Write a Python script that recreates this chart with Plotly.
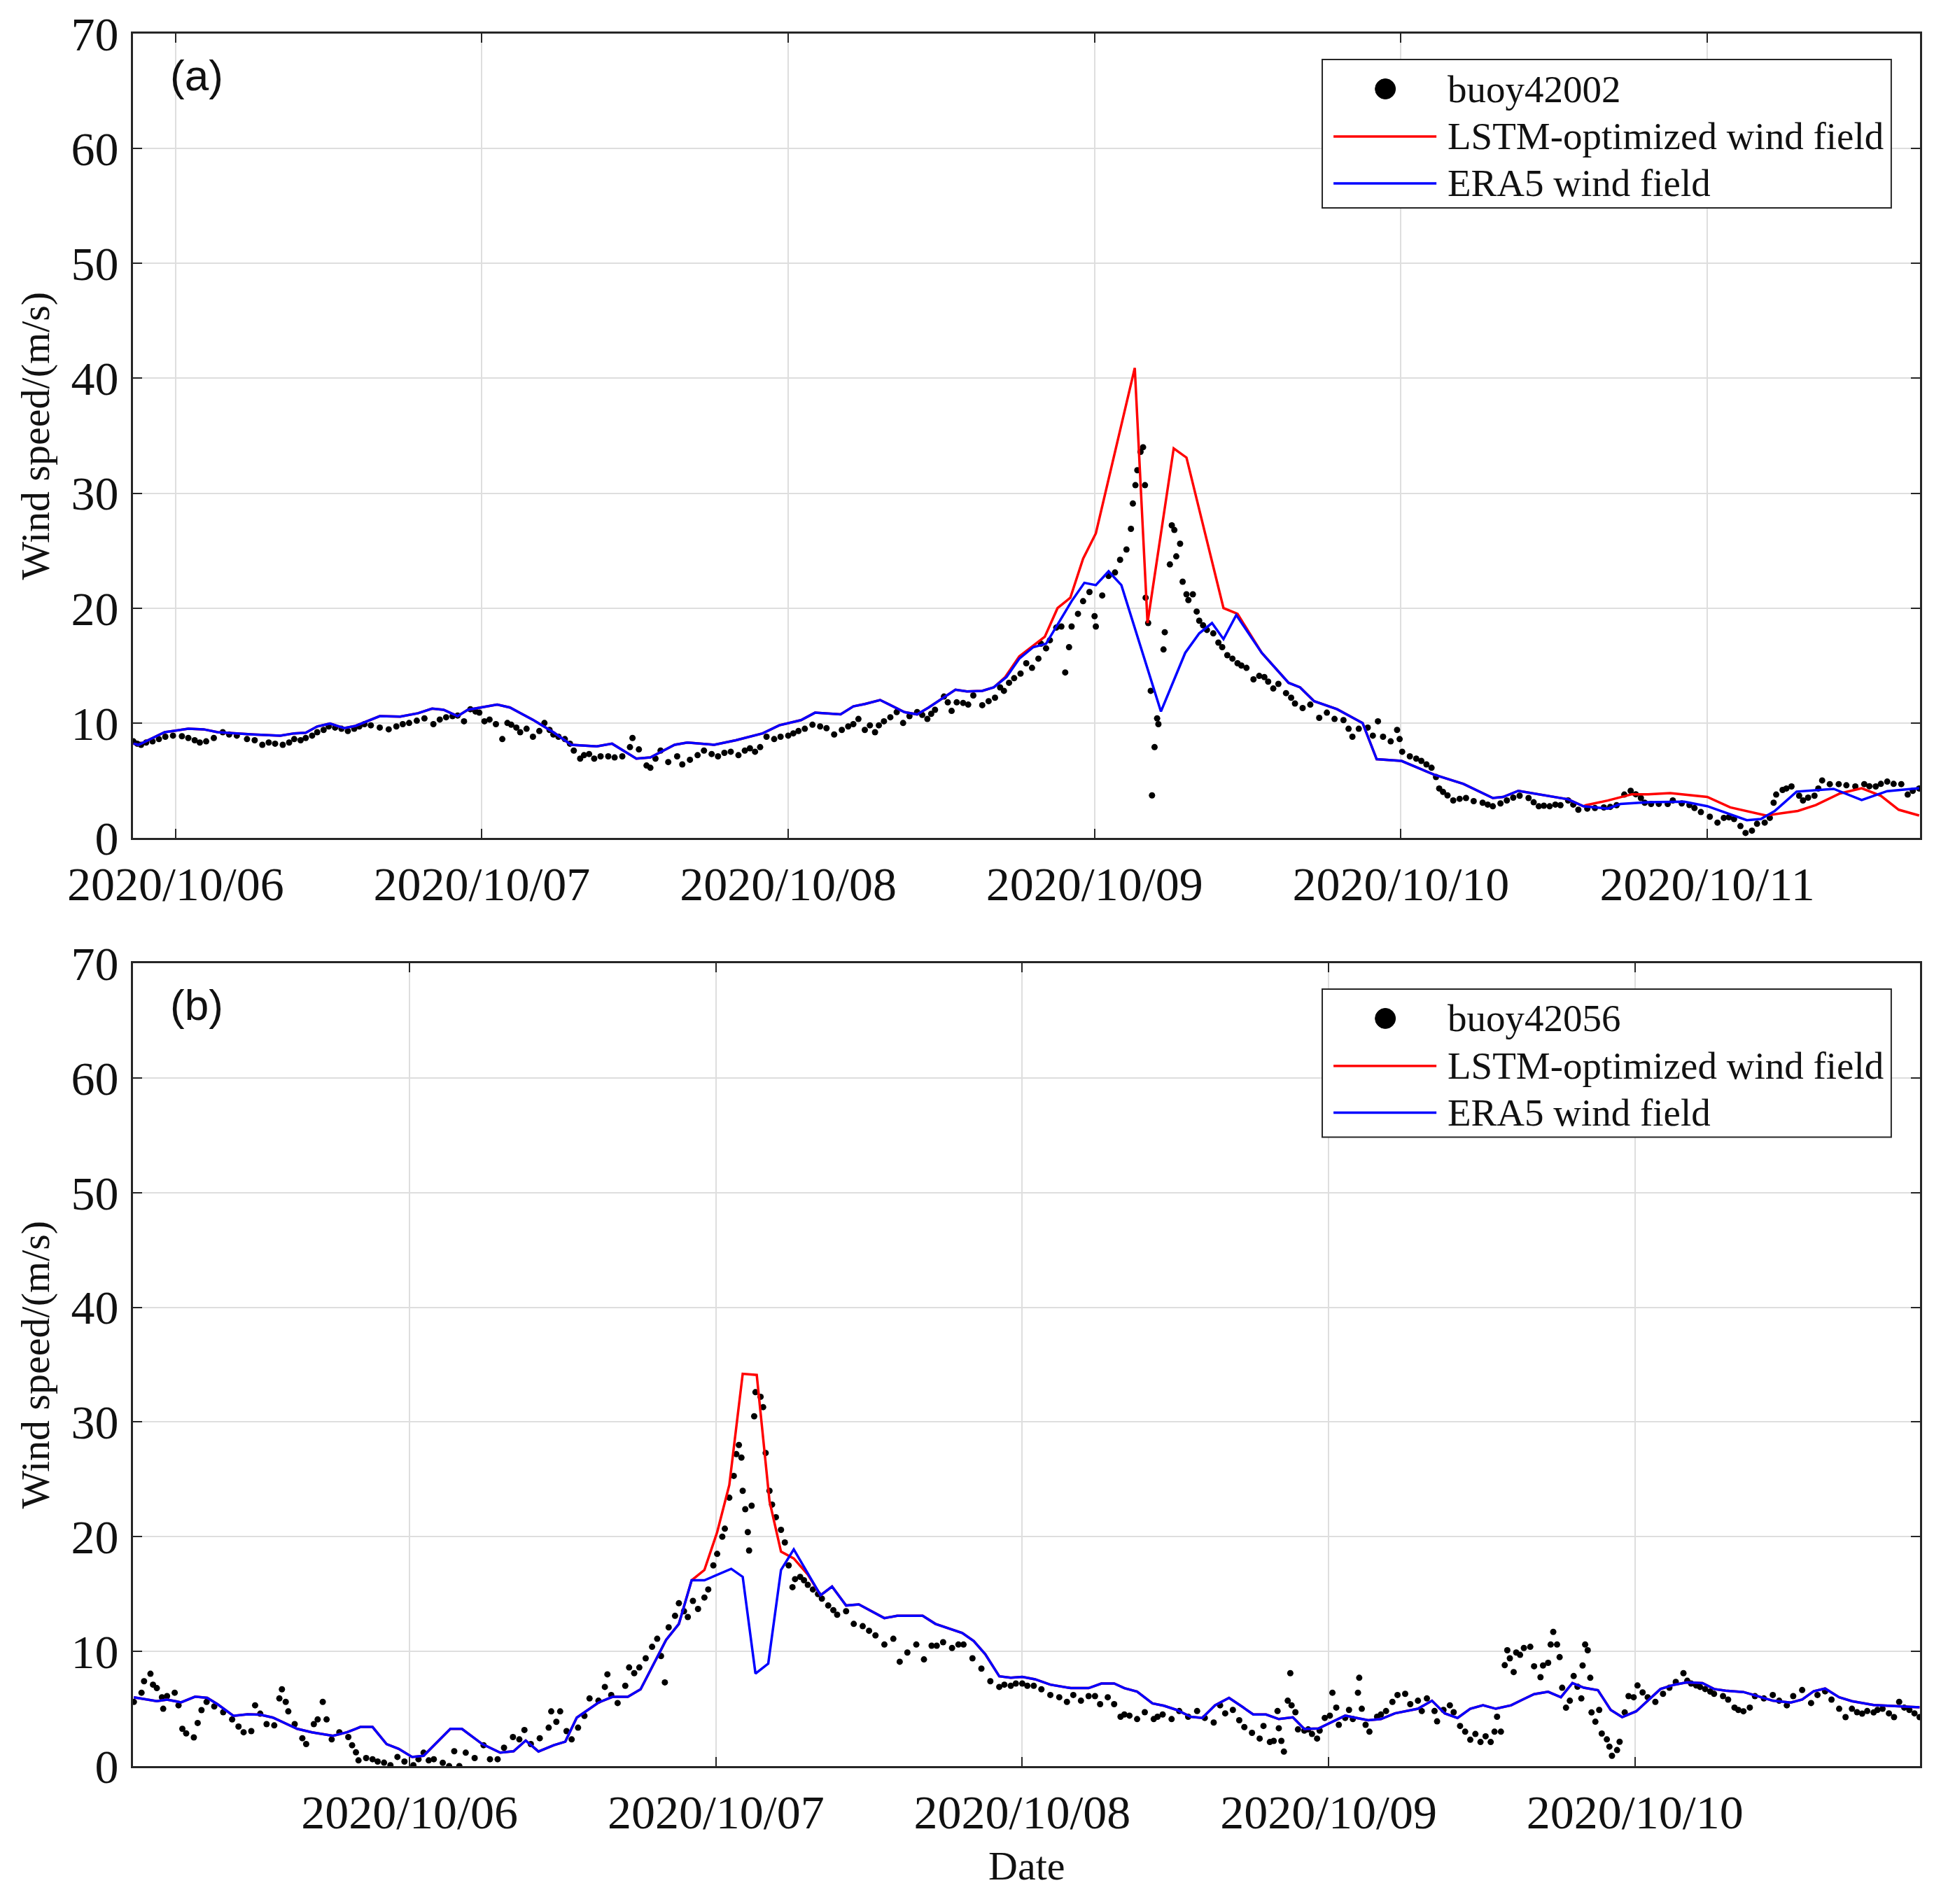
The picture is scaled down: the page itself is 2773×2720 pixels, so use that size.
import pandas as pd
import plotly.graph_objects as go

BASE = pd.Timestamp("2020-10-06 00:00")

# ---------------- Panel (a): buoy 42002 ----------------
BUOY_A_H = [
    -3.3, -3.0, -2.7, -2.3, -1.8, -1.3, -0.8, -0.2, 0.5, 1.0,
    1.5, 1.9, 2.4, 3.0, 3.7, 4.2, 4.8, 5.6, 6.2, 6.8,
    7.3, 7.8, 8.4, 8.9, 9.3, 9.8, 10.2, 10.7, 11.1, 11.6,
    12.0, 12.5, 13.0, 13.5, 14.0, 14.4, 14.8, 15.3, 16.0, 16.7,
    17.3, 17.8, 18.3, 18.9, 19.5, 20.2, 20.7, 21.2, 21.7, 22.1,
    22.6, 23.1, 23.5, 23.8, 24.2, 24.6, 25.1, 25.6, 26.0, 26.3,
    26.7, 27.0, 27.5, 28.0, 28.5, 28.9, 29.3, 29.6, 30.0, 30.5,
    30.9, 31.2, 31.7, 32.0, 32.4, 32.8, 33.3, 33.9, 34.4, 35.0,
    35.6, 35.8, 36.3, 36.9, 37.2, 37.6, 38.0, 38.6, 39.3, 39.7,
    40.3, 40.9, 41.4, 42.0, 42.5, 43.0, 43.5, 44.1, 44.6, 45.0,
    45.4, 45.8, 46.3, 46.9, 47.4, 48.0, 48.4, 48.8, 49.3, 49.9,
    50.5, 51.0, 51.6, 52.2, 52.7, 53.1, 53.5, 54.0, 54.4, 54.8,
    55.1, 55.5, 56.0, 56.5, 57.0, 57.5, 58.1, 58.5, 58.9, 59.2,
    59.5, 60.2, 60.5, 60.8, 61.2, 61.7, 62.1, 62.5, 63.2, 63.7,
    64.2, 64.6, 64.9, 65.3, 65.7, 66.2, 66.65, 67.1, 67.6, 67.8,
    68.2, 68.5, 69.0, 69.4, 69.7, 70.0, 70.2, 70.7, 71.1, 71.6,
    72.0, 72.1, 72.6, 73.1, 73.6, 74.0, 74.5, 74.85, 75.0, 75.2,
    75.35, 75.6, 75.8, 75.95, 76.0, 76.2, 76.4, 76.5, 76.7, 76.9,
    77.0, 77.4, 77.5, 77.9, 78.05, 78.25, 78.4, 78.7, 78.9, 79.2,
    79.35, 79.7, 80.0, 80.2, 80.5, 80.8, 81.3, 81.7, 82.0, 82.4,
    82.8, 83.2, 83.5, 83.9, 84.45, 84.9, 85.3, 85.6, 86.0, 86.4,
    87.0, 87.4, 87.7, 88.3, 88.9, 89.6, 90.2, 90.8, 91.5, 91.9,
    92.2, 92.7, 93.4, 93.8, 94.2, 94.6, 95.2, 95.7, 95.9, 96.1,
    96.7, 97.2, 97.6, 98.0, 98.4, 98.75, 99.0, 99.3, 99.65, 100.1,
    100.6, 101.1, 101.7, 102.4, 102.8, 103.2, 103.8, 104.3, 104.8, 105.3,
    106.0, 106.4, 106.8, 107.2, 107.65, 108.1, 108.5, 109.1, 109.5, 109.9,
    110.6, 111.2, 111.9, 112.4, 112.9, 113.5, 114.0, 114.4, 114.8, 115.1,
    115.6, 116.2, 116.9, 117.3, 118.0, 118.6, 119.0, 119.5, 120.2, 120.8,
    121.3, 121.7, 122.1, 122.6, 123.0, 123.5, 123.9, 124.5, 124.9, 125.2,
    125.4, 125.9, 126.2, 126.6, 127.2, 127.5, 127.9, 128.4, 128.7, 129.0,
    129.6, 130.3, 130.9, 131.6, 132.3, 132.7, 133.2, 133.6, 134.1, 134.6,
    135.2, 135.7, 136.1, 136.6,
]
BUOY_A_V = [
    8.4, 8.2, 8.1, 8.3, 8.4, 8.6, 8.8, 8.9, 8.85, 8.7,
    8.5, 8.3, 8.4, 8.7, 9.2, 9.0, 8.9, 8.6, 8.5, 8.1,
    8.3, 8.2, 8.1, 8.3, 8.6, 8.5, 8.7, 8.9, 9.2, 9.4,
    9.7, 9.6, 9.5, 9.3, 9.5, 9.7, 9.9, 9.8, 9.6, 9.45,
    9.7, 9.9, 10.0, 10.2, 10.4, 9.9, 10.3, 10.5, 10.6, 10.65,
    10.15, 11.2, 11.0, 10.9, 10.15, 10.3, 9.9, 8.6, 10.0, 9.85,
    9.6, 9.2, 9.5, 8.8, 9.3, 10.0, 9.4, 9.0, 8.8, 8.6,
    8.2, 7.6, 6.9, 7.2, 7.3, 6.9, 7.1, 7.1, 7.0, 7.1,
    7.9, 8.7, 7.7, 6.3, 6.1, 6.9, 7.6, 6.6, 7.1, 6.4,
    6.8, 7.2, 7.6, 7.3, 7.1, 7.4, 7.5, 7.2, 7.6, 7.8,
    7.5, 7.9, 8.8, 8.6, 8.8, 8.9, 9.1, 9.3, 9.5, 9.85,
    9.7, 9.55, 9.0, 9.4, 9.7, 9.9, 10.35, 9.4, 9.8, 9.2,
    9.8, 10.15, 10.5, 10.95, 10.0, 10.6, 10.95, 10.7, 10.35, 10.8,
    11.15, 12.3, 11.8, 11.05, 11.8, 11.75, 11.6, 12.4, 11.55, 11.9,
    12.2, 13.1, 12.8, 13.5, 13.9, 14.3, 15.2, 14.8, 15.6, 16.9,
    16.5, 17.2, 18.3, 18.4, 14.4, 16.6, 18.4, 19.5, 20.6, 21.4,
    19.3, 18.4, 21.1, 22.8, 23.1, 24.2, 25.1, 26.9, 29.1, 30.7,
    32.0, 33.6, 34.0, 30.7, 20.9, 18.7, 12.8, 3.7, 7.9, 10.4,
    9.9, 16.4, 17.9, 23.8, 27.2, 26.8, 24.5, 25.6, 22.3, 21.2,
    20.7, 21.2, 19.7, 18.9, 18.5, 18.1, 17.8, 17.0, 16.6, 15.9,
    15.6, 15.2, 15.0, 14.8, 13.8, 14.1, 14.0, 13.6, 13.0, 13.4,
    12.6, 12.2, 11.7, 11.3, 11.6, 10.45, 10.9, 10.35, 10.25, 9.5,
    8.8, 9.5, 9.6, 8.9, 10.15, 8.8, 8.4, 9.4, 8.6, 7.5,
    7.1, 6.9, 6.7, 6.4, 6.1, 5.3, 4.3, 4.0, 3.7, 3.26,
    3.4, 3.47, 3.2, 3.06, 2.9, 2.75, 3.0, 3.26, 3.5, 3.67,
    3.47, 3.1, 2.75, 2.8, 2.75, 2.9, 2.85, 3.26, 2.9, 2.45,
    2.55, 2.6, 2.65, 2.7, 2.85, 3.77, 4.1, 3.8, 3.47, 3.06,
    2.95, 2.96, 2.95, 3.26, 3.0, 2.86, 2.6, 2.25, 1.84, 1.33,
    1.74, 1.8, 1.64, 1.03, 0.43, 0.63, 1.23, 1.33, 1.74, 3.06,
    3.77, 4.17, 4.3, 4.48, 3.67, 3.26, 3.5, 3.67, 4.3, 5.0,
    4.68, 4.68, 4.58, 4.48, 4.68, 4.5, 4.48, 4.7, 4.9, 4.7,
    4.68, 3.77, 4.1, 4.3,
]

ERA5_A_H = [
    -3.3, -2.9, -0.85, 1.0, 2.2, 3.3, 6.1, 8.2, 9.3, 10.2,
    11.1, 12.1, 13.2, 14.1, 16.0, 17.6, 19.0, 20.1, 21.0, 22.1,
    22.9, 24.1, 25.2, 26.2, 28.2, 29.6, 31.0, 33.0, 34.2, 36.1,
    37.2, 39.1, 40.1, 42.2, 43.9, 46.0, 47.3, 49.0, 50.1, 52.1,
    53.1, 54.0, 55.2, 57.1, 58.1, 59.0, 61.1, 62.0, 63.2, 64.1,
    65.1, 66.1, 67.2, 68.2, 69.2, 70.2, 71.2, 72.1, 73.1, 74.1,
    77.2, 79.1, 80.2, 81.2, 82.1, 83.1, 85.1, 87.2, 88.1, 89.2,
    91.0, 93.0, 94.1, 96.05, 98.6, 100.9, 103.2, 104.0, 105.2, 108.0,
    109.1, 110.3, 112.2, 113.2, 115.35, 118.2, 120.0, 123.1, 124.2, 125.3,
    127.0, 129.9, 132.1, 134.1, 136.6,
]
ERA5_A_V = [
    8.2, 8.1, 9.2, 9.5, 9.45, 9.2, 9.0, 8.9, 9.1, 9.15,
    9.7, 9.95, 9.55, 9.75, 10.6, 10.55, 10.85, 11.25, 11.15, 10.6,
    11.15, 11.4, 11.6, 11.35, 10.15, 9.2, 8.1, 7.96, 8.2, 6.9,
    7.0, 8.1, 8.3, 8.1, 8.5, 9.1, 9.8, 10.25, 10.9, 10.75,
    11.45, 11.65, 12.0, 10.95, 10.75, 11.35, 12.9, 12.75, 12.8, 13.1,
    14.0, 15.6, 16.6, 16.9, 18.7, 20.6, 22.2, 22.0, 23.2, 22.0,
    11.0, 16.1, 17.8, 18.7, 17.3, 19.4, 16.1, 13.5, 13.1, 11.9,
    11.2, 10.0, 6.85, 6.7, 5.5, 4.7, 3.47, 3.56, 4.1, 3.6,
    3.36, 2.75, 2.55, 2.95, 3.1, 3.15, 2.76, 1.54, 1.64, 2.35,
    4.03, 4.27, 3.3, 4.07, 4.32,
]

# LSTM-optimized field: coincides with ERA5 except in these visible segments
LSTM_A_SEG1_H = [64.1, 65.0, 66.1, 67.2, 68.1, 69.1, 70.1, 71.1, 72.1, 75.15, 76.15, 78.2, 79.2, 82.1, 83.2]
LSTM_A_SEG1_V = [13.1, 14.0, 15.8, 16.7, 17.5, 20.0, 20.9, 24.3, 26.5, 40.9, 18.7, 33.9, 33.1, 20.0, 19.5]
LSTM_A_SEG2_H = [110.5, 112.2, 114.1, 115.35, 117.1, 120.0, 121.8, 124.6, 127.1, 128.5, 130.4, 132.1, 133.6, 135.0, 136.6]
LSTM_A_SEG2_V = [2.85, 3.25, 3.8, 3.8, 3.9, 3.57, 2.66, 1.95, 2.35, 2.86, 3.87, 4.32, 3.67, 2.45, 1.95]

# ---------------- Panel (b): buoy 42056 ----------------
BUOY_B_H = [
    -21.6, -21.0, -20.8, -20.3, -20.1, -19.8, -19.4, -19.3, -19.0, -18.4,
    -18.1, -17.8, -17.5, -16.9, -16.6, -16.3, -15.9, -15.3, -14.6, -13.9,
    -13.4, -13.0, -12.4, -12.1, -11.7, -11.2, -10.6, -10.2, -10.0, -9.7,
    -9.5, -9.0, -8.4, -8.1, -7.5, -7.2, -6.8, -6.5, -6.1, -5.5,
    -4.8, -4.5, -4.2, -4.0, -3.4, -2.9, -2.5, -2.0, -1.5, -0.95,
    -0.4, 0.3, 0.7, 1.1, 1.5, 1.9, 2.6, 3.1, 3.5, 3.9,
    4.4, 5.1, 5.8, 6.3, 6.9, 7.4, 8.1, 8.6, 9.0, 9.5,
    10.2, 10.9, 11.1, 11.5, 11.8, 12.3, 12.7, 13.2, 13.7, 14.1,
    14.8, 15.3, 15.5, 15.8, 16.3, 16.9, 17.2, 17.6, 18.0, 18.5,
    19.0, 19.4, 19.7, 20.0, 20.3, 20.8, 21.1, 21.5, 21.8, 22.2,
    22.6, 23.1, 23.4, 23.8, 24.1, 24.5, 24.7, 25.05, 25.4, 25.6,
    25.8, 26.0, 26.1, 26.3, 26.5, 26.6, 26.8, 27.0, 27.1, 27.5,
    27.7, 27.9, 28.2, 28.4, 28.7, 29.1, 29.4, 29.7, 30.0, 30.2,
    30.6, 30.9, 31.2, 31.6, 32.0, 32.3, 32.8, 33.2, 33.5, 34.2,
    34.8, 35.5, 36.0, 36.5, 37.2, 37.9, 38.4, 39.0, 39.7, 40.3,
    40.9, 41.3, 41.8, 42.5, 43.0, 43.4, 44.1, 44.8, 45.5, 46.2,
    46.6, 47.1, 47.5, 48.0, 48.4, 48.9, 49.5, 50.2, 50.9, 51.5,
    52.0, 52.6, 53.2, 53.7, 54.1, 54.7, 55.2, 55.7, 56.0, 56.4,
    57.0, 57.6, 58.3, 58.6, 59.0, 59.7, 60.3, 61.0, 61.7, 62.3,
    63.0, 63.5, 63.9, 64.5, 65.0, 65.4, 66.0, 66.6, 66.9, 67.4,
    67.7, 68.0, 68.1, 68.3, 68.5, 68.8, 69.0, 69.1, 69.4, 69.6,
    70.1, 70.4, 70.7, 71.1, 71.3, 71.7, 72.1, 72.3, 72.6, 72.8,
    73.3, 73.6, 73.9, 74.3, 74.4, 74.6, 74.9, 75.2, 75.8, 76.1,
    76.5, 77.0, 77.4, 78.0, 78.4, 79.0, 79.3, 79.7, 80.3, 80.5,
    81.0, 81.5, 81.8, 82.3, 82.7, 83.1, 83.5, 83.9, 84.3, 84.7,
    85.0, 85.2, 85.5, 85.8, 86.0, 86.2, 86.5, 86.7, 87.0, 87.3,
    87.8, 88.1, 88.6, 88.8, 89.2, 89.4, 89.6, 89.9, 90.1, 90.3,
    90.6, 90.9, 91.2, 91.5, 91.8, 91.9, 92.1, 92.3, 92.5, 92.6,
    92.9, 93.2, 93.4, 93.8, 94.0, 94.2, 94.6, 94.8, 95.2, 95.5,
    95.9, 96.2, 96.6, 97.0, 97.6, 98.2, 98.7, 99.2, 99.8, 100.1,
    100.4, 100.8, 101.1, 101.5, 101.9, 102.2, 102.9, 103.3, 103.8, 104.1,
    104.5, 105.0, 105.4, 106.1, 106.8, 107.3, 107.9, 108.4, 109.1, 109.8,
    110.3, 110.9, 111.4, 112.0, 112.5, 113.0, 113.4, 113.8, 114.2, 114.7,
    115.0, 115.4, 115.9, 116.3, 116.7, 117.1, 117.5, 117.9, 118.3,
]
BUOY_B_V = [
    5.6, 6.4, 7.4, 8.05, 7.1, 6.8, 6.0, 5.0, 6.1, 6.4,
    5.3, 3.25, 2.85, 2.5, 3.76, 4.88, 5.6, 5.2, 4.7, 4.07,
    3.45, 2.95, 3.05, 5.3, 4.57, 3.66, 3.55, 5.9, 6.7, 5.6,
    4.77, 3.66, 2.43, 1.92, 3.66, 4.07, 5.6, 4.07, 2.33, 2.95,
    2.53, 1.82, 1.2, 0.5, 0.7, 0.6, 0.4, 0.3, 0.08, 0.8,
    0.4, 0.08, 0.6, 1.17, 0.5, 0.6, 0.29, 0.0, 1.3, 0.0,
    1.17, 0.7, 1.82, 0.6, 0.6, 1.6, 2.53, 2.33, 3.15, 1.92,
    2.43, 3.35, 4.77, 3.86, 4.77, 3.05, 2.33, 3.35, 4.38, 5.9,
    5.7, 6.9, 8.0, 6.2, 5.5, 7.0, 8.6, 8.1, 8.6, 9.4,
    10.4, 11.1, 9.6, 7.3, 12.1, 13.1, 14.2, 13.5, 13.0, 14.4,
    13.7, 14.7, 15.4, 17.5, 18.5, 20.0, 20.7, 23.4, 25.3, 27.2,
    28.0, 26.9, 24.0, 22.4, 20.4, 18.8, 22.7, 30.5, 32.6, 32.2,
    31.3, 27.3, 24.0, 22.8, 21.7, 20.6, 19.5, 17.5, 15.6, 16.3,
    16.5, 16.2, 15.8, 15.4, 15.0, 14.6, 14.0, 13.6, 13.2, 13.5,
    12.4, 12.2, 11.8, 11.4, 10.6, 11.1, 9.1, 9.9, 10.6, 9.3,
    10.5, 10.5, 10.8, 10.3, 10.6, 10.6, 9.4, 8.5, 7.4, 6.9,
    7.1, 7.0, 7.2, 7.2, 7.0, 7.0, 6.7, 6.2, 6.0, 5.6,
    6.2, 5.7, 6.1, 6.1, 5.4, 6.0, 5.4, 4.3, 4.5, 4.4,
    4.1, 4.7, 4.1, 4.3, 4.5, 4.1, 4.8, 4.3, 4.8, 4.2,
    3.8, 5.3, 4.6, 4.9, 4.0, 3.4, 2.9, 2.4, 3.5, 2.1,
    2.2, 4.8, 3.3, 2.2, 1.26, 5.7, 8.1, 5.3, 4.7, 3.2,
    3.1, 3.2, 2.8, 2.4, 3.1, 4.2, 4.4, 6.4, 5.1, 3.6,
    4.2, 4.9, 4.1, 6.4, 7.7, 5.0, 3.6, 3.0, 4.3, 4.5,
    4.8, 5.6, 6.2, 6.3, 5.4, 5.7, 4.8, 5.9, 4.8, 3.9,
    4.9, 5.3, 4.7, 3.5, 3.0, 2.3, 2.8, 2.1, 2.6, 2.1,
    3.0, 4.3, 3.0, 8.8, 10.1, 9.4, 8.2, 9.9, 9.7, 10.3,
    10.4, 8.7, 7.75, 8.77, 9.0, 10.6, 11.7, 10.6, 9.5, 6.83,
    5.09, 5.7, 7.85, 6.93, 5.9, 8.77, 10.6, 10.1, 7.7, 4.68,
    3.87, 4.9, 2.84, 2.33, 1.7, 0.9, 1.4, 2.12, 4.68, 6.1,
    6.0, 7.03, 6.42, 6.0, 5.6, 6.3, 6.83, 7.34, 8.1, 7.44,
    7.2, 7.03, 6.9, 6.72, 6.5, 6.3, 6.1, 5.8, 5.1, 4.9,
    4.78, 5.1, 6.1, 5.9, 6.2, 5.7, 5.3, 6.1, 6.63, 5.5,
    6.2, 6.52, 5.8, 5.0, 4.27, 5.0, 4.7, 4.58, 4.8, 4.68,
    4.9, 5.0, 4.6, 4.27, 5.6, 5.1, 4.9, 4.6, 4.27,
]

ERA5_B_H = [
    -21.6, -19.8, -19.0, -17.9, -16.8, -15.85, -15.05, -13.8, -12.7, -11.7,
    -10.7, -8.8, -7.65, -6.0, -4.9, -3.85, -2.9, -1.8, -0.85, 0.2,
    1.1, 3.2, 4.1, 5.7, 7.1, 8.15, 9.1, 10.1, 11.3, 12.2,
    13.1, 14.8, 15.9, 17.1, 18.1, 19.05, 20.1, 21.1, 22.1, 23.1,
    24.1, 25.2, 26.1, 27.1, 28.1, 29.1, 30.1, 31.2, 32.2, 33.1,
    34.2, 35.2, 37.2, 38.2, 40.2, 41.2, 42.2, 43.3, 44.2, 45.1,
    46.2, 47.1, 48.0, 49.0, 50.2, 51.8, 53.2, 54.2, 55.2, 56.0,
    57.0, 58.2, 59.1, 60.1, 61.2, 62.1, 63.1, 64.2, 65.2, 66.1,
    67.1, 68.1, 69.2, 70.1, 71.2, 72.2, 73.3, 74.2, 75.1, 76.1,
    77.2, 79.0, 80.1, 81.1, 82.1, 83.1, 84.1, 85.1, 86.3, 87.2,
    88.1, 89.2, 90.2, 91.1, 92.0, 93.1, 94.1, 95.0, 96.1, 97.1,
    98.0, 99.1, 100.1, 101.3, 102.2, 103.1, 104.5, 105.4, 106.8, 108.2,
    109.1, 110.0, 110.9, 112.0, 113.0, 114.7, 116.5, 118.3,
]
ERA5_B_V = [
    6.0, 5.66, 5.8, 5.56, 6.05, 5.95, 5.4, 4.38, 4.52, 4.48,
    4.23, 3.25, 2.95, 2.64, 2.95, 3.41, 3.41, 1.92, 1.51, 0.8,
    0.9, 3.25, 3.25, 1.92, 1.17, 1.3, 2.23, 1.27, 1.82, 2.13,
    4.23, 5.54, 6.04, 6.04, 6.7, 8.77, 11.0, 12.4, 16.2, 16.2,
    16.7, 17.2, 16.5, 8.07, 8.94, 17.1, 18.9, 16.8, 14.9, 15.65,
    14.0, 14.1, 12.9, 13.1, 13.1, 12.4, 12.0, 11.6, 10.9, 9.76,
    7.83, 7.7, 7.78, 7.57, 7.1, 6.8, 6.8, 7.2, 7.2, 6.8,
    6.5, 5.47, 5.26, 4.9, 4.3, 4.2, 5.3, 5.95, 5.2, 4.5,
    4.5, 4.1, 4.25, 3.24, 3.28, 3.8, 4.4, 4.2, 4.0, 4.1,
    4.6, 5.0, 5.7, 4.6, 4.2, 5.0, 5.3, 5.0, 5.3, 5.8,
    6.27, 6.48, 6.0, 7.24, 6.83, 6.62, 4.9, 4.27, 4.78, 5.8,
    6.72, 7.1, 7.3, 7.24, 6.72, 6.58, 6.46, 6.17, 5.7, 5.54,
    5.8, 6.52, 6.76, 6.0, 5.66, 5.33, 5.25, 5.13,
]

LSTM_B_SEG1_H = [22.1, 23.1, 24.1, 25.05, 26.1, 27.2, 28.2, 29.1, 30.1, 31.2, 32.2]
LSTM_B_SEG1_V = [16.2, 17.1, 20.4, 24.5, 34.2, 34.1, 23.1, 18.7, 18.1, 16.7, 14.9]

BUOY_A_NAME = "buoy42002"
BUOY_B_NAME = "buoy42056"
LSTM_NAME = "LSTM-optimized wind field"
ERA5_NAME = "ERA5 wind field"
RANGE_A_H = [-3.333, 136.667]
RANGE_B_H = [-21.667, 118.333]


def to_time(hours):
    return [BASE + pd.Timedelta(hours=h) for h in hours]


def with_segments(base_h, base_v, segs):
    pts = list(zip(base_h, base_v))
    for sh, sv in segs:
        lo, hi = sh[0], sh[-1]
        pts = [p for p in pts if p[0] < lo or p[0] > hi] + list(zip(sh, sv))
    pts.sort()
    return [p[0] for p in pts], [p[1] for p in pts]


LSTM_A_H, LSTM_A_V = with_segments(ERA5_A_H, ERA5_A_V,
                                   [(LSTM_A_SEG1_H, LSTM_A_SEG1_V), (LSTM_A_SEG2_H, LSTM_A_SEG2_V)])
LSTM_B_H, LSTM_B_V = with_segments(ERA5_B_H, ERA5_B_V, [(LSTM_B_SEG1_H, LSTM_B_SEG1_V)])

# page geometry (browser body margin of 8 px is compensated)
OFF = 8
W, H = 2773 - OFF, 2720 - OFF
PL, PR, PT_A, PB_A, PT_B, PB_B = 190, 2743, 48, 1197, 1376, 2523
ML, MR = PL - OFF, (W + OFF) - PR
MT, MB = PT_A - OFF, (H + OFF) - PB_B
PH = H - MT - MB
PW = W - ML - MR


def py(page_y):
    return 1 - (page_y - PT_A) / PH


A_DOM = [py(PB_A), 1.0]
B_DOM = [0.0, py(PT_B)]

SERIF = "Liberation Serif, Times New Roman, serif"
AXC = "#262626"
GRID = "#dedede"
TXT = "#111111"

fig = go.Figure()

panels = [
    ("x", "y", BUOY_A_H, BUOY_A_V, LSTM_A_H, LSTM_A_V, ERA5_A_H, ERA5_A_V),
    ("x2", "y2", BUOY_B_H, BUOY_B_V, LSTM_B_H, LSTM_B_V, ERA5_B_H, ERA5_B_V),
]
for xa, ya, bh, bv, lh, lv, eh, ev in panels:
    fig.add_trace(go.Scatter(x=to_time(bh), y=bv, mode="markers", xaxis=xa, yaxis=ya,
                             marker=dict(color="black", size=9), showlegend=False))
    fig.add_trace(go.Scatter(x=to_time(lh), y=lv, mode="lines", xaxis=xa, yaxis=ya,
                             line=dict(color="#ff0000", width=3.5), showlegend=False))
    fig.add_trace(go.Scatter(x=to_time(eh), y=ev, mode="lines", xaxis=xa, yaxis=ya,
                             line=dict(color="#0000ff", width=3.5), showlegend=False))

axis_common = dict(
    showline=True, linecolor=AXC, linewidth=3, mirror="ticks",
    ticks="inside", ticklen=13, tickwidth=2, tickcolor=AXC,
    showgrid=True, gridcolor=GRID, gridwidth=2, zeroline=False,
    tickfont=dict(family=SERIF, size=68, color=TXT), automargin=False,
)
xcommon = dict(axis_common, type="date", dtick=86400000, tick0="2020-10-06",
               tickformat="%Y/%m/%d", ticklabelstandoff=4)
ycommon = dict(axis_common, range=[0, 70], dtick=10, tick0=0, ticklabelstandoff=4)

fig.update_layout(
    width=W, height=H, margin=dict(l=ML, r=MR, t=MT, b=MB, autoexpand=False),
    paper_bgcolor="white", plot_bgcolor="white", showlegend=False,
    xaxis=dict(xcommon, domain=[0, 1], anchor="y",
               range=[BASE + pd.Timedelta(hours=RANGE_A_H[0]), BASE + pd.Timedelta(hours=RANGE_A_H[1])]),
    yaxis=dict(ycommon, domain=A_DOM, anchor="x"),
    xaxis2=dict(xcommon, domain=[0, 1], anchor="y2",
                range=[BASE + pd.Timedelta(hours=RANGE_B_H[0]), BASE + pd.Timedelta(hours=RANGE_B_H[1])]),
    yaxis2=dict(ycommon, domain=B_DOM, anchor="x2"),
)

shapes = []
annotations = []
for xr, yr, label, buoy_name in [("x domain", "y domain", "(a)", BUOY_A_NAME),
                                 ("x2 domain", "y2 domain", "(b)", BUOY_B_NAME)]:
    # legend box (MATLAB-style legend drawn inside each panel)
    shapes.append(dict(type="rect", xref=xr, yref=yr, x0=0.6655, x1=0.9839, y0=0.7833, y1=0.9678,
                       line=dict(color=AXC, width=2), fillcolor="white", layer="above"))
    rows = [0.9312, 0.8721, 0.8138]
    shapes.append(dict(type="circle", xref=xr, yref=yr,
                       x0=0.7008 - 0.00568, x1=0.7008 + 0.00568,
                       y0=rows[0] - 0.0126, y1=rows[0] + 0.0126,
                       line=dict(color="black", width=1), fillcolor="black", layer="above"))
    shapes.append(dict(type="line", xref=xr, yref=yr, x0=0.6718, x1=0.7294, y0=rows[1], y1=rows[1],
                       line=dict(color="#ff0000", width=3.5), layer="above"))
    shapes.append(dict(type="line", xref=xr, yref=yr, x0=0.6718, x1=0.7294, y0=rows[2], y1=rows[2],
                       line=dict(color="#0000ff", width=3.5), layer="above"))
    for txt, ry in zip([buoy_name, LSTM_NAME, ERA5_NAME], rows):
        annotations.append(dict(xref=xr, yref=yr, x=0.7348, y=ry, text=txt, showarrow=False,
                                xanchor="left", yanchor="middle",
                                font=dict(family=SERIF, size=55, color=TXT)))
    annotations.append(dict(xref=xr, yref=yr, x=0.0356, y=0.948, text=label, showarrow=False,
                            xanchor="center", yanchor="middle",
                            font=dict(family="Liberation Sans, Arial, sans-serif", size=62, color=TXT)))

# axis titles
for page_y in [(PT_A + PB_A) / 2, (PT_B + PB_B) / 2]:
    annotations.append(dict(xref="paper", yref="paper", x=(50 - PL) / PW, y=py(page_y),
                            text="Wind speed/(m/s)", textangle=-90, showarrow=False,
                            xanchor="center", yanchor="middle",
                            font=dict(family=SERIF, size=58, color=TXT)))
annotations.append(dict(xref="paper", yref="paper", x=0.5, y=py(2665),
                        text="Date", showarrow=False, xanchor="center", yanchor="middle",
                        font=dict(family=SERIF, size=58, color=TXT)))

fig.update_layout(shapes=shapes, annotations=annotations)
fig.write_html("out.html")
